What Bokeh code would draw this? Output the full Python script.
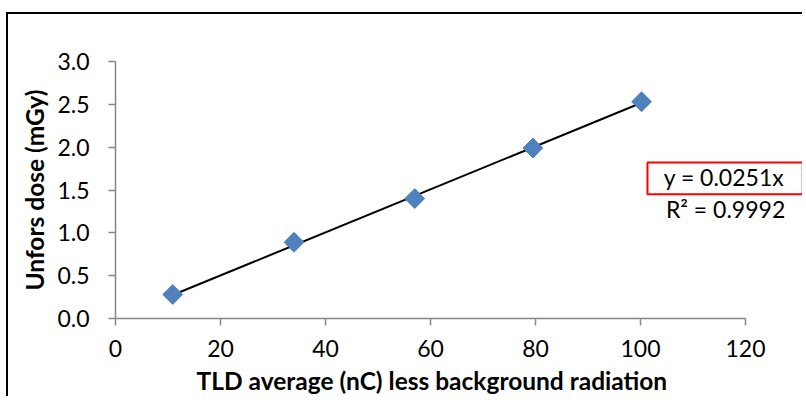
import numpy as np
from bokeh.plotting import figure
from bokeh.models import Range1d, FixedTicker, ColumnDataSource, CustomJSTickFormatter, Title
from bokeh.core.properties import value
from bokeh.embed import file_html
from bokeh.resources import INLINE

# ---- data ----
tld_nc = [10.9, 34.0, 57.0, 79.5, 100.2]
dose_mgy = [0.28, 0.89, 1.40, 1.99, 2.53]
x_ticks = [0, 20, 40, 60, 80, 100, 120]
y_ticks = [0.0, 0.5, 1.0, 1.5, 2.0, 2.5, 3.0]
eq_labels = ["y = 0.0251x", "R\u00b2 = 0.9992"]
x_title = "TLD average (nC) less background radiation"
y_title = "Unfors dose (mGy)"

FONT = "Lato"
W, H = 796, 384
LEFT, TOP, BOTTOM = 107, 47, 79
PX_PER_X = 630 / 120.0
x_end = 120 + (W - LEFT - 630) / PX_PER_X

p = figure(width=W, height=H, output_backend="svg", toolbar_location=None,
           x_range=Range1d(0, x_end), y_range=Range1d(0, 3.0),
           min_border_left=LEFT, min_border_right=0, min_border_top=TOP,
           min_border_bottom=BOTTOM,
           styles={"position": "relative", "left": "6px", "top": "12px",
                   "border-left": "2px solid black", "border-top": "2px solid black"})
p.outline_line_color = None
p.grid.visible = False
p.background_fill_color = "white"
p.border_fill_color = "white"

for ax in (p.xaxis[0], p.yaxis[0]):
    ax.axis_line_color = "#868686"
    ax.axis_line_width = 1.5
    ax.major_tick_line_color = "#868686"
    ax.major_tick_line_width = 1.5
    ax.major_tick_in = 0
    ax.major_tick_out = 7
    ax.minor_tick_line_color = None
    ax.major_label_text_font = FONT
    ax.major_label_text_font_size = "23px"
    ax.major_label_text_color = "black"
    ax.axis_label_text_font = FONT
    ax.axis_label_text_font_size = "24.5px"
    ax.axis_label_text_font_style = "bold"
    ax.axis_label_text_color = "black"

p.xaxis.ticker = FixedTicker(ticks=x_ticks)
p.xaxis.bounds = (0, 120)
p.xaxis.major_label_standoff = 14

p.yaxis.ticker = FixedTicker(ticks=y_ticks)
p.yaxis.bounds = (0, 3.0)
p.yaxis.major_label_standoff = 19
p.yaxis.axis_label = y_title
p.yaxis.axis_label_standoff = 5
p.yaxis.formatter = CustomJSTickFormatter(code="return tick.toFixed(1);")

# x-axis title, centred under the 0-120 axis span (frame extends further right)
p.add_layout(Title(text=x_title, align="left", offset=81, text_font=FONT,
                   text_font_size="24.5px", text_font_style="bold",
                   text_color="black", standoff=8), "below")

# trendline through origin (least squares)
xs = np.array(tld_nc)
ys = np.array(dose_mgy)
slope = float((xs * ys).sum() / (xs * xs).sum())
tx = [xs.min(), xs.max()]
p.line(tx, [slope * v for v in tx], line_color="black", line_width=2)

src = ColumnDataSource(dict(x=tld_nc, y=dose_mgy))
p.scatter("x", "y", source=src, marker="square", size=14, angle=np.pi / 4,
          fill_color="#4F81BD", line_color="#4F81BD")

# equation box and labels
p.quad(left=[101.33], right=[130.9], top=[1.822], bottom=[1.45],
       fill_color=None, line_color="#FF0000", line_width=2)
p.text(x=[115.9, 116.2], y=[1.652, 1.276], text=eq_labels,
       text_font=value(FONT), text_font_size="23px", text_color="black",
       text_align="center", text_baseline="alphabetic")

open("out.html", "w").write(file_html(p, INLINE))
